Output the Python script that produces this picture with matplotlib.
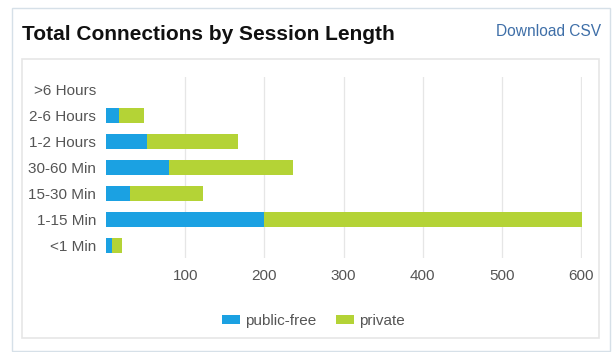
import matplotlib.pyplot as plt
from matplotlib.patches import Rectangle
import numpy as np

plt.rcParams["font.family"] = ["Liberation Sans", "DejaVu Sans"]

# data
categories = ["<1 Min", "1-15 Min", "15-30 Min", "30-60 Min", "1-2 Hours", "2-6 Hours", ">6 Hours"]
public_free = [7, 200, 30, 80, 52, 16, 0]
private = [13, 401, 93, 156, 115, 32, 0]
x_ticks = [100, 200, 300, 400, 500, 600]

BLUE = "#1ba1e2"
GREEN = "#b4d336"
W, H = 613, 352

fig = plt.figure(figsize=(W / 100, H / 100), dpi=100)
fig.patch.set_facecolor("white")

# card frames (pixel coords -> figure fraction)
def frame(x0, y0, x1, y1, color, lw):
    fig.patches.append(Rectangle((x0 / W, 1 - y1 / H), (x1 - x0) / W, (y1 - y0) / H,
                                 transform=fig.transFigure, fill=False,
                                 edgecolor=color, linewidth=lw))

frame(12, 8, 610, 351, "#d6e0e8", 1.0)
frame(22, 59, 599, 338, "#e6e6e6", 1.2)

fig.text(22 / W, 1 - 35 / H, "Total Connections by Session Length", fontsize=15,
         fontweight="bold", color="#111111", va="center", ha="left")
fig.text(601 / W, 1 - 32 / H, "Download CSV", fontsize=11.2, color="#3f6fa8",
         va="center", ha="right")

ax = fig.add_axes([106 / W, 1 - 258 / H, (582 - 106) / W, (258 - 77) / H])
y = np.arange(len(categories))
ax.barh(y, public_free, height=0.58, color=BLUE, label="public-free", zorder=3)
ax.barh(y, private, left=public_free, height=0.58, color=GREEN, label="private", zorder=3)

ax.set_xlim(0, 601)
ax.set_ylim(-0.5, len(categories) - 0.5)
ax.set_yticks(y)
ax.set_yticklabels(categories)
ax.set_xticks(x_ticks)
ax.tick_params(axis="both", length=0, labelsize=11, labelcolor="#555555")
ax.tick_params(axis="x", pad=8)
ax.tick_params(axis="y", pad=7)
for s in ax.spines.values():
    s.set_visible(False)
ax.grid(axis="x", color="#e6e6e6", linewidth=0.9, zorder=0)

leg = fig.legend(loc="center", bbox_to_anchor=(313 / W, 1 - 321 / H), ncol=2,
                 frameon=False, fontsize=11, handlelength=1.2, handleheight=0.55,
                 handletextpad=0.3, columnspacing=1.3)
for t in leg.get_texts():
    t.set_color("#555555")

fig.savefig("out.png", dpi=100)
